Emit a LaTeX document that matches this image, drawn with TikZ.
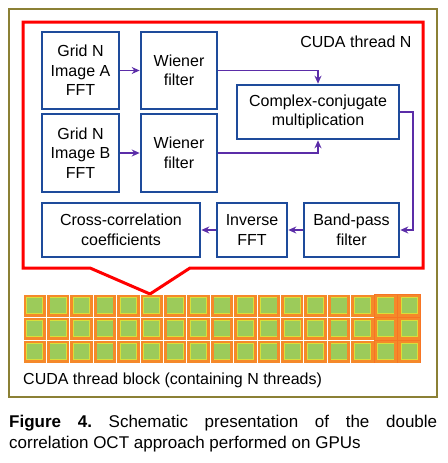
\documentclass[tikz,border=0pt]{standalone}
\usepackage{fontspec}
\setmainfont{Liberation Sans}
\usepackage{xcolor}
\usetikzlibrary{arrows.meta}
\definecolor{boxblue}{HTML}{1E4B9B}
\definecolor{flowpurple}{HTML}{5B2DA8}
\definecolor{frameolive}{HTML}{8B8035}
\definecolor{cellorange}{HTML}{F5892A}
\definecolor{cellgreen}{HTML}{9CCB5A}
\frenchspacing

\begin{document}
\begin{tikzpicture}[x=1pt, y=-1pt,
	stage/.style={draw=boxblue, line width=2.6pt, fill=white, align=center, inner sep=2pt, font=\fontsize{16}{19.5}\selectfont},
	flow/.style={draw=flowpurple, line width=1.7pt, -{Stealth[length=8pt,width=7pt]}}]
	\useasboundingbox (0,0) rectangle (447,463);
	\draw[color=frameolive, line width=1.5pt] (9,9) rectangle (437,397);
	\draw[color=red, line width=3pt, line join=miter] (23,22) -- (423,22) -- (423,268) -- (190,268) -- (150,294) -- (90,268) -- (23,268) -- cycle;
	\node[anchor=east, font=\fontsize{16}{19.5}\selectfont] (threadlabel) at (415,42) {CUDA thread N};
	\node[stage, minimum width=77pt, minimum height=77pt] (gridA) at (80.5,70.5) {Grid N\\Image A\\FFT};
	\node[stage, minimum width=76pt, minimum height=77pt] (wienerA) at (179,70.5) {Wiener\\filter};
	\node[stage, minimum width=162pt, minimum height=54pt] (conj) at (318,112) {Complex-conjugate\\multiplication};
	\node[stage, minimum width=77pt, minimum height=78pt] (gridB) at (80.5,153) {Grid N\\Image B\\FFT};
	\node[stage, minimum width=76pt, minimum height=78pt] (wienerB) at (179,153) {Wiener\\filter};
	\node[stage, minimum width=158pt, minimum height=54pt] (cross) at (121,230) {Cross-correlation\\coefficients};
	\node[stage, minimum width=70pt, minimum height=54pt] (ifft) at (252,230) {Inverse\\FFT};
	\node[stage, minimum width=95pt, minimum height=54pt] (bandpass) at (351.5,230) {Band-pass\\filter};
	\draw[flow] (gridA) -- (wienerA);
	\draw[flow] (gridB) -- (wienerB);
	\draw[flow] (wienerA.east) -| (conj.north);
	\draw[flow] (wienerB.east) -| (conj.south);
	\coordinate (bend) at (413,112);
	\draw[flow] (conj.east) -- (bend) |- (bandpass.east);
	\draw[flow] (bandpass) -- (ifft);
	\draw[flow] (ifft) -- (cross);
	\foreach \c in {0,...,16} {
		\foreach \r in {0,1,2} {
			\ifnum\c>14
				\fill[cellorange!85!red] (23+23.41*\c,294+23*\r) rectangle +(23.41,23);
			\fi
			\fill[cellorange] (23.5+23.41*\c,294.5+23*\r) rectangle +(22.4,22);
			\fill[yellow!60!cellgreen] (26.3+23.41*\c,297.3+23*\r) rectangle +(16.8,16.4);
			\fill[cellgreen] (27+23.41*\c,298+23*\r) rectangle +(15.4,15);
		}
	}
	\node[anchor=base west, inner sep=0pt, font=\fontsize{16}{19.5}\selectfont] (blocklabel) at (23,384) {CUDA thread block (containing N threads)};
	\node[anchor=north west, inner sep=0pt, text width=428pt, align=justify, font=\fontsize{17}{20.5}\selectfont] (caption) at (9,415) {\textbf{Figure 4.} Schematic presentation of the double\linebreak correlation OCT approach performed on GPUs};
\end{tikzpicture}
\end{document}
